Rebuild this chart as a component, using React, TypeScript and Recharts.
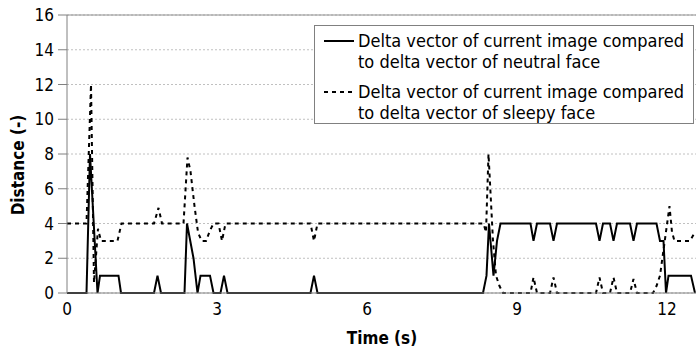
import React from 'react';
import {
  LineChart,
  Line,
  XAxis,
  YAxis,
  CartesianGrid,
  Legend,
  ReferenceLine,
} from 'recharts';

// time (s) and distance for the "neutral face" comparison (solid line)
const neutralTimes = [
  0, 0.39, 0.46, 0.61, 0.66, 1.03, 1.08, 1.74, 1.81, 1.88, 2.35, 2.4, 2.53, 2.61,
  2.67, 2.86, 2.93, 3.07, 3.14, 3.21, 4.87, 4.94, 5.01, 8.32, 8.39, 8.44, 8.53,
  8.6, 8.67, 9.27, 9.33, 9.4, 9.66, 9.73, 9.8, 10.58, 10.65, 10.72, 10.86, 10.93,
  11.0, 11.26, 11.33, 11.4, 11.79, 11.86, 11.93, 11.98, 12.03, 12.48, 12.56,
];
const neutralValues = [
  0, 0, 8, 0, 1, 1, 0, 0, 1, 0, 0, 4, 2, 0,
  1, 1, 0, 0, 1, 0, 0, 1, 0, 0, 1, 4, 1,
  3, 4, 4, 3, 4, 4, 3, 4, 4, 3, 4, 4, 3,
  4, 4, 3, 4, 4, 3, 3, 0, 1, 1, 0,
];

// time (s) and distance for the "sleepy face" comparison (dashed line)
const sleepyTimes = [
  0, 0.39, 0.48, 0.54, 0.62, 0.68, 1.01, 1.09, 1.74, 1.83, 1.9, 2.33, 2.41, 2.47,
  2.55, 2.62, 2.69, 2.78, 2.86, 2.93, 3.03, 3.1, 3.17, 4.87, 4.94, 5.01, 8.33,
  8.38, 8.43, 8.52, 8.58, 8.65, 8.72, 9.27, 9.33, 9.4, 9.66, 9.73, 9.8, 10.58,
  10.65, 10.72, 10.86, 10.93, 11.0, 11.26, 11.33, 11.4, 11.72, 11.79, 11.86,
  12.05, 12.1, 12.15, 12.46, 12.56,
];
const sleepyValues = [
  4, 4, 12, 0.6, 3.7, 3, 3, 4, 4, 4.9, 4, 4, 7.8, 7,
  5, 3.5, 3, 3, 3.6, 4, 4, 3, 4, 4, 3, 4, 4,
  3.5, 8, 3, 1, 0.4, 0, 0, 0.9, 0, 0, 0.9, 0, 0,
  0.9, 0, 0, 0.9, 0, 0, 0.8, 0, 0, 0.4, 1,
  5, 3.5, 3, 3, 3.5,
];

const xTicks = [0, 3, 6, 9, 12];
const yTicks = [0, 2, 4, 6, 8, 10, 12, 14, 16];

const legendLines = [
  ['Delta vector of current image compared', 'to delta vector of neutral face'],
  ['Delta vector of current image compared', 'to delta vector of sleepy face'],
];

const neutralData = neutralTimes.map((t, i) => ({ t, v: neutralValues[i] }));
const sleepyData = sleepyTimes.map((t, i) => ({ t, v: sleepyValues[i] }));

const FONT = '"DejaVu Sans Condensed", "DejaVu Sans", sans-serif';

const LegendBox = () => (
  <div
    style={{
      boxSizing: 'border-box',
      width: 380,
      height: 99,
      background: '#fff',
      border: '1px solid #808080',
      padding: '4px 0 0 9px',
      fontFamily: FONT,
      fontSize: 18,
      lineHeight: '21px',
      color: '#000',
    }}
  >
    {legendLines.map((lines, i) => (
      <div key={i} style={{ display: 'flex', marginBottom: i === 0 ? 9 : 0 }}>
        <svg width={34} height={21} style={{ flex: 'none' }}>
          <line
            x1={0}
            x2={30}
            y1={11}
            y2={11}
            stroke="#000"
            strokeWidth={2}
            strokeDasharray={i === 0 ? undefined : '4 4'}
          />
        </svg>
        <div>
          {lines.map((l) => (
            <div key={l} style={{ whiteSpace: 'nowrap' }}>
              {l}
            </div>
          ))}
        </div>
      </div>
    ))}
  </div>
);

const YTitle = () => (
  <text
    x={18}
    y={165}
    transform="rotate(-90 18 165)"
    textAnchor="middle"
    dominantBaseline="central"
    fontSize={17}
    fontWeight="bold"
    fill="#000"
  >
    Distance (-)
  </text>
);

const XTitle = () => (
  <text
    x={382}
    y={338}
    textAnchor="middle"
    dominantBaseline="central"
    fontSize={17}
    fontWeight="bold"
    fill="#000"
  >
    Time (s)
  </text>
);

export default function App() {
  return (
    <div style={{ position: 'absolute', left: 0, top: 0 }}>
      <LineChart
        width={696}
        height={352}
        margin={{ top: 15, right: 0, left: 0, bottom: 0 }}
        style={{ fontFamily: FONT }}
      >
        <CartesianGrid
          vertical={false}
          stroke="#c0c0c0"
          strokeDasharray="2 2"
        />
        <ReferenceLine y={16} stroke="#909090" strokeWidth={1} />
        <XAxis
          dataKey="t"
          type="number"
          domain={[0, 12.58]}
          allowDataOverflow
          ticks={xTicks}
          height={59}
          tickLine={false}
          tickSize={6}
          tickMargin={4}
          stroke="#808080"
          tick={{ fill: '#000', fontSize: 17 }}
          label={<XTitle />}
        />
        <YAxis
          dataKey="v"
          type="number"
          domain={[0, 16]}
          ticks={yTicks}
          width={67}
          tickSize={9}
          tickMargin={4}
          stroke="#808080"
          tick={{ fill: '#000', fontSize: 17 }}
          label={<YTitle />}
        />
        <Legend
          layout="vertical"
          align="center"
          verticalAlign="middle"
          wrapperStyle={{ left: 314, top: 25, width: 380, height: 99 }}
          content={() => <LegendBox />}
        />
        <Line
          data={sleepyData}
          dataKey="v"
          type="linear"
          stroke="#000"
          strokeWidth={2}
          strokeDasharray="4 4"
          dot={false}
          isAnimationActive={false}
        />
        <Line
          data={neutralData}
          dataKey="v"
          type="linear"
          stroke="#000"
          strokeWidth={2}
          dot={false}
          isAnimationActive={false}
        />
      </LineChart>
    </div>
  );
}
